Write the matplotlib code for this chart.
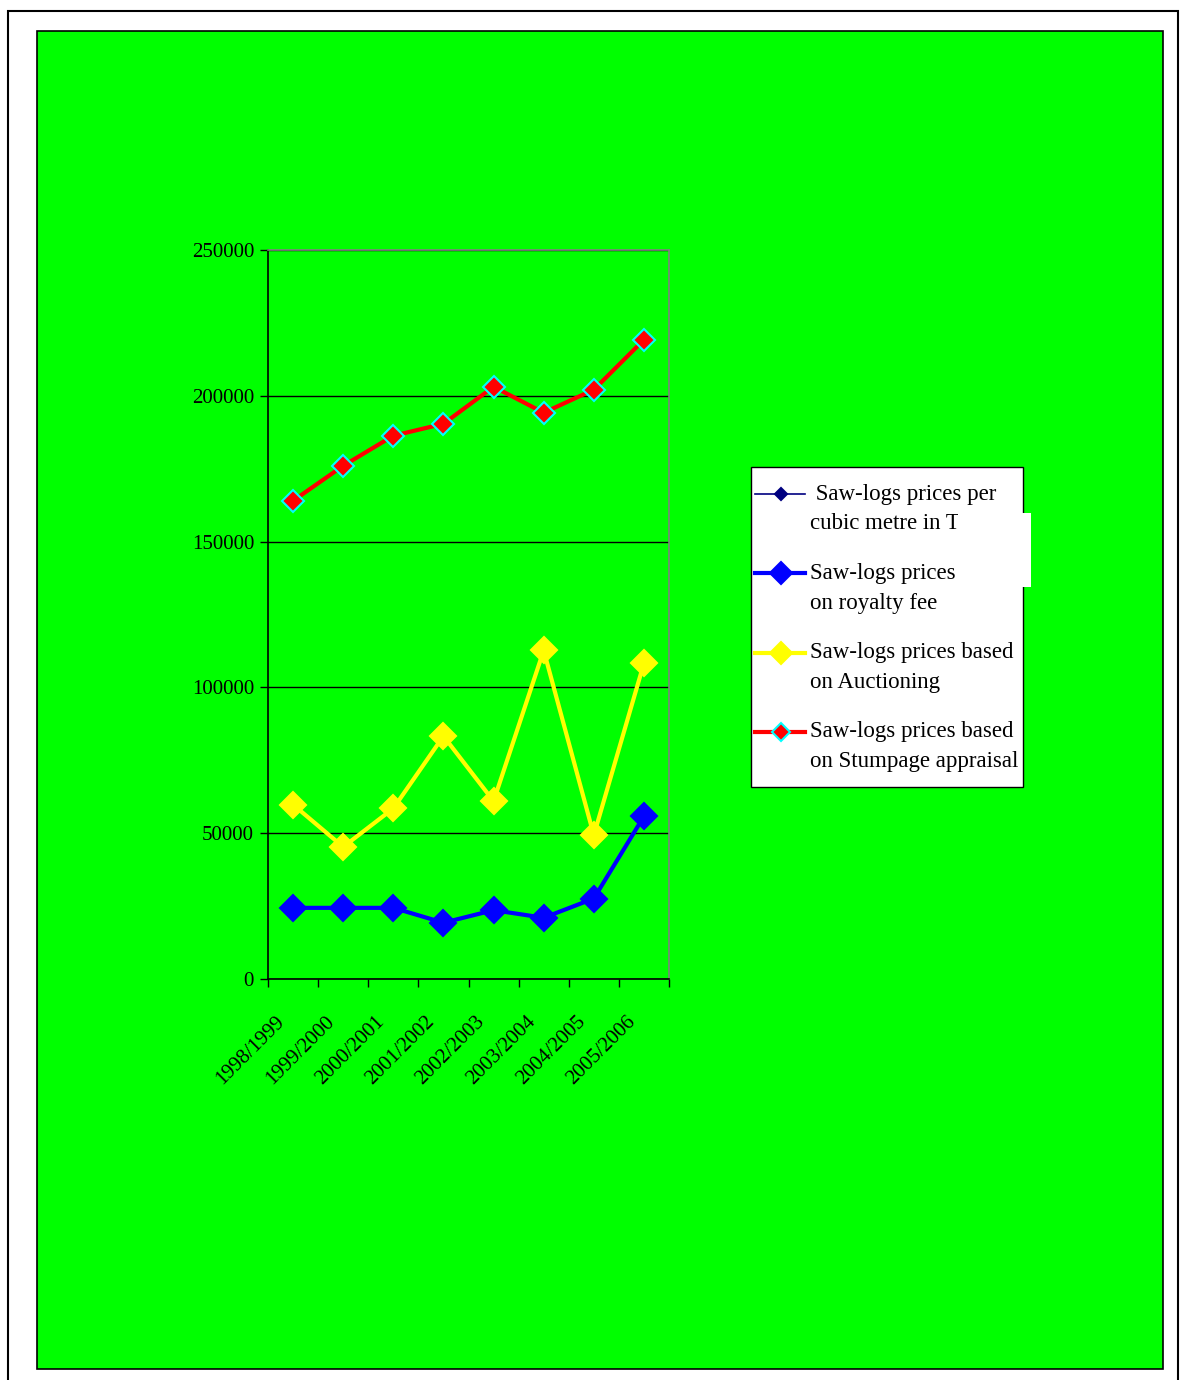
import matplotlib
matplotlib.use('Agg')
import matplotlib.pyplot as plt
import matplotlib.transforms as mtransforms
from matplotlib.patches import Rectangle
from matplotlib.lines import Line2D

# 数据
years = ['1998/1999', '1999/2000', '2000/2001', '2001/2002',
         '2002/2003', '2003/2004', '2004/2005', '2005/2006']
royalty_fee = [24400, 24400, 24400, 19300, 23600, 21000, 27600, 55800]
auctioning = [59800, 45300, 58500, 83300, 61000, 112700, 49300, 108300]
stumpage = [164000, 176000, 186300, 190400, 203100, 194200, 202100, 219200]
y_ticks = [0, 50000, 100000, 150000, 200000, 250000]

W, H = 1181, 1380

plt.rcParams.update({
    'font.family': ['Liberation Serif', 'DejaVu Serif'],
    'font.size': 15,
})

fig = plt.figure(figsize=(W / 100, H / 100), dpi=100)
fig.patch.set_facecolor('white')

def box(x0, y0, x1, y1):
    # 像素坐标 -> figure 比例
    return (x0 / W, 1 - y1 / H), (x1 - x0) / W, (y1 - y0) / H

# 外框 + 绿色背景
xy, w, h = box(8, 11, 1178, 1392)
fig.add_artist(Rectangle(xy, w, h, transform=fig.transFigure, facecolor='white',
                         edgecolor='black', linewidth=1.5, zorder=0))
xy, w, h = box(37, 31, 1163, 1369)
fig.add_artist(Rectangle(xy, w, h, transform=fig.transFigure, facecolor='#00ff00',
                         edgecolor='black', linewidth=1.2, zorder=0.5))

ax = fig.add_axes([268 / W, 1 - 979 / H, (669 - 268) / W, (979 - 250) / H])
ax.set_facecolor('#00ff00')
ax.set_zorder(2)

# 每条线的样式: (标签第一行, 第二行, 颜色, 线宽, marker大小, marker边色)
series_style = [
    (' Saw-logs prices per', 'cubic metre in Ta', '#000080', 1.2, 7, '#000080'),
    ('Saw-logs prices', 'on royalty fee', '#0000ff', 3, 13, '#0000ff'),
    ('Saw-logs prices based', 'on Auctioning', '#ffff00', 3, 13, '#ffff00'),
    ('Saw-logs prices based', 'on Stumpage appraisal', '#ff0000', 3, 11, '#00ffff'),
]

x = list(range(len(years)))
for vals, st in zip([royalty_fee, auctioning, stumpage], series_style[1:]):
    ax.plot(x, vals, color=st[2], lw=st[3], marker='D', ms=st[4],
            markeredgecolor=st[5], markeredgewidth=1.5)

ax.set_xlim(-0.5, len(years) - 0.5)
ax.set_ylim(0, 250000)
ax.set_yticks(y_ticks)
ax.set_yticklabels([str(v) for v in y_ticks])
ax.yaxis.grid(True, color='black', lw=1)
ax.set_axisbelow(True)

ax.set_xticks(x)
ax.set_xticklabels(years, rotation=45, ha='right', rotation_mode='anchor')
ax.set_xticks([i - 0.5 for i in range(len(years) + 1)], minor=True)
ax.tick_params(axis='x', which='major', length=0, pad=24)
ax.tick_params(axis='x', which='minor', length=6, width=1)
ax.tick_params(axis='y', length=6, width=1, pad=4)
# 标签整体左移一点
shift = mtransforms.ScaledTranslation(-18 / 100, 0, fig.dpi_scale_trans)
for lbl in ax.get_xticklabels():
    lbl.set_transform(lbl.get_transform() + shift)

for s in ['left', 'bottom']:
    ax.spines[s].set_color('black')
    ax.spines[s].set_linewidth(1.2)
for s in ['top', 'right']:
    ax.spines[s].set_color('#808080')
    ax.spines[s].set_linewidth(1.2)

# 图例: 手动画, handle 对齐第一行
xy, w, h = box(751, 467, 1023, 787)
fig.add_artist(Rectangle(xy, w, h, transform=fig.transFigure, facecolor='white',
                         edgecolor='black', linewidth=1, zorder=4))
for i, (l1, l2, c, lw, ms, mec) in enumerate(series_style):
    yy = 494 + 79.3 * i
    fig.add_artist(Line2D([755 / W, 805 / W], [1 - yy / H] * 2, color=c, lw=lw,
                          transform=fig.transFigure, zorder=5))
    fig.add_artist(Line2D([781 / W], [1 - yy / H], color=c, marker='D',
                          ms=ms * 0.85, markeredgecolor=mec, markeredgewidth=1.5,
                          transform=fig.transFigure, zorder=5))
    fig.text(810 / W, 1 - yy / H, l1, fontsize=16.5, va='center', zorder=6)
    fig.text(810 / W, 1 - (yy + 30) / H, l2, fontsize=16.5, va='center', zorder=6)

# 图例里被截断的白块
xy, w, h = box(958, 513, 1031, 587)
fig.add_artist(Rectangle(xy, w, h, transform=fig.transFigure, facecolor='white',
                         edgecolor='none', zorder=10))

fig.savefig('out.png', dpi=100)
